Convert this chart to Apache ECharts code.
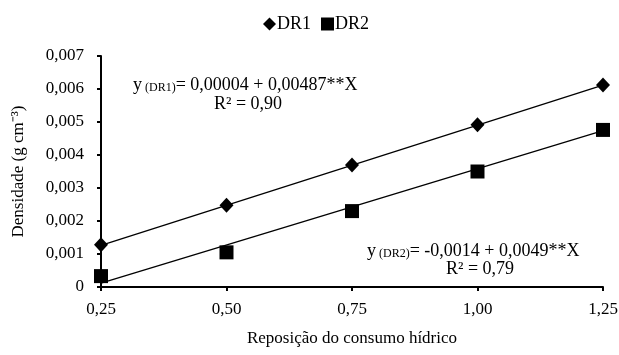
<!DOCTYPE html>
<html>
<head>
<meta charset="utf-8">
<script src="https://cdn.jsdelivr.net/npm/echarts@6/dist/echarts.min.js"></script>
<style>
    html, body {margin: 0; padding: 0; background: #fff;}
    #chart {width: 619px; height: 355px;}
</style>
</head>
<body>
<div id="chart"></div>
<script>
    // reposicao do consumo hidrico
    var xValues = [0.25, 0.50, 0.75, 1.00, 1.25];
    var dr1 = [0.00128, 0.00248, 0.0037, 0.00492, 0.00612];
    var dr2 = [0.00033, 0.00105, 0.0023, 0.0035, 0.00476];
    // trend line ends
    var trendX = [0.25, 1.25];
    var trendDR1 = [0.00126, 0.00612];
    var trendDR2 = [0.00012, 0.00474];
    var yTicks = [0, 0.001, 0.002, 0.003, 0.004, 0.005, 0.006, 0.007];

    function pairs(xs, ys) {
        var out = [];
        for (var i = 0; i < xs.length; i++) out.push([xs[i], ys[i]]);
        return out;
    }

    var font = 'Liberation Serif';
    var myChart = echarts.init(document.getElementById('chart'));
    var option = {
        animation: false,
        textStyle: {fontFamily: font, color: '#000'},
        legend: {
            top: 10,
            left: 258,
            itemGap: 10,
            itemWidth: 13,
            itemHeight: 13,
            textStyle: {fontFamily: font, fontSize: 18, color: '#000', padding: [0, 0, 0, -4]},
            data: [{name: 'DR1', icon: 'diamond'}, {name: 'DR2', icon: 'rect'}]
        },
        grid: {left: 101, right: 16, top: 56, bottom: 68, containLabel: false, outerBoundsMode: 'none'},
        xAxis: {
            type: 'value',
            min: 0.25,
            max: 1.25,
            interval: 0.25,
            name: 'Reposição do consumo hídrico',
            nameLocation: 'middle',
            nameGap: 43,
            nameTextStyle: {fontFamily: font, fontSize: 17, color: '#000'},
            axisLine: {lineStyle: {color: '#000', width: 2}},
            axisTick: {show: true, length: 4, lineStyle: {color: '#000', width: 2}},
            splitLine: {show: false},
            axisLabel: {
                fontFamily: font, fontSize: 17, color: '#000', margin: 14,
                formatter: function (v) { return v.toFixed(2).replace('.', ','); }
            }
        },
        yAxis: {
            type: 'value',
            min: yTicks[0],
            max: yTicks[yTicks.length - 1],
            interval: 0.001,
            name: 'Densidade (g cm⁻³)',
            nameLocation: 'middle',
            nameGap: 74,
            nameTextStyle: {fontFamily: font, fontSize: 17, color: '#000'},
            axisLine: {show: true, lineStyle: {color: '#000', width: 2}},
            axisTick: {show: true, length: 4, lineStyle: {color: '#000', width: 2}},
            splitLine: {show: false},
            axisLabel: {
                fontFamily: font, fontSize: 17, color: '#000', margin: 17,
                formatter: function (v) {
                    return v === 0 ? '0' : v.toFixed(3).replace('.', ',');
                }
            }
        },
        series: [
            {
                name: 'DR1T', type: 'line', data: pairs(trendX, trendDR1),
                symbol: 'none', silent: true, z: 1,
                lineStyle: {color: '#000', width: 1.3}
            },
            {
                name: 'DR2T', type: 'line', data: pairs(trendX, trendDR2),
                symbol: 'none', silent: true, z: 1,
                lineStyle: {color: '#000', width: 1.3}
            },
            {
                name: 'DR1', type: 'scatter', data: pairs(xValues, dr1),
                symbol: 'diamond', symbolSize: [14, 15], z: 3,
                itemStyle: {color: '#000', opacity: 1}
            },
            {
                name: 'DR2', type: 'scatter', data: pairs(xValues, dr2),
                symbol: 'rect', symbolSize: 14, z: 3,
                itemStyle: {color: '#000', opacity: 1}
            }
        ],
        graphic: [
            {
                type: 'text', left: 133, top: 76,
                style: {
                    text: '{a|y}{s| (DR1)}{a|= 0,00004 + 0,00487**X}',
                    rich: {
                        a: {fontFamily: font, fontSize: 18, fill: '#000'},
                        s: {fontFamily: font, fontSize: 12, fill: '#000', verticalAlign: 'bottom'}
                    }
                }
            },
            {
                type: 'text', left: 214, top: 95,
                style: {text: 'R² = 0,90', font: '18px "Liberation Serif"', fill: '#000'}
            },
            {
                type: 'text', left: 367, top: 242,
                style: {
                    text: '{a|y}{s| (DR2)}{a|= -0,0014 + 0,0049**X}',
                    rich: {
                        a: {fontFamily: font, fontSize: 18, fill: '#000'},
                        s: {fontFamily: font, fontSize: 12, fill: '#000', verticalAlign: 'bottom'}
                    }
                }
            },
            {
                type: 'text', left: 446, top: 260,
                style: {text: 'R² = 0,79', font: '18px "Liberation Serif"', fill: '#000'}
            }
        ]
    };
    myChart.setOption(option);
</script>
</body>
</html>
